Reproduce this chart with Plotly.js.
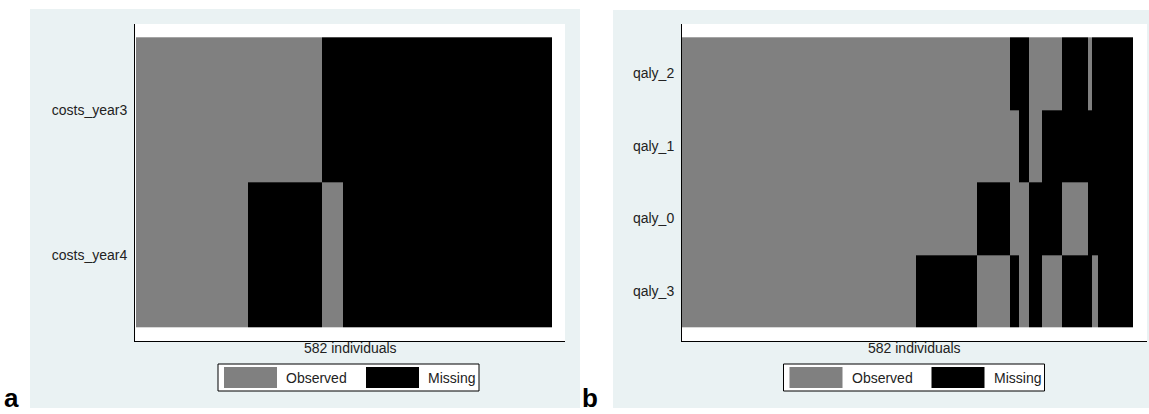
<!DOCTYPE html>
<html>
<head>
<meta charset="utf-8">
<script src="https://cdn.plot.ly/plotly-3.0.1.min.js"></script>
<style>html,body{margin:0;padding:0;background:#fff;}#chart{width:1149px;height:414px;}</style>
</head>
<body>
<div id="chart"></div>
<script>
// ---- data ----
const nIndividuals = 582;
const legendLabels = ['Observed', 'Missing'];
const panelLabels = ['a', 'b'];

// panel a: variables bottom -> top
const aVars = ['costs_year4', 'costs_year3'];
const aEdges = [0, 157, 260, 290, 582];          // individual boundaries of pattern blocks
const costs_year3 = [0, 0, 1, 1];                 // 0 = observed, 1 = missing
const costs_year4 = [0, 1, 0, 1];

// panel b: variables bottom -> top
const bVars = ['qaly_3', 'qaly_0', 'qaly_1', 'qaly_2'];
const bEdges = [0, 302, 381, 423, 434, 447, 464, 490, 523, 529, 536, 582];
const qaly_2 = [0, 0, 0, 1, 1, 0, 0, 1, 0, 1, 1];
const qaly_1 = [0, 0, 0, 0, 1, 0, 1, 1, 1, 1, 1];
const qaly_0 = [0, 0, 1, 0, 0, 1, 1, 0, 1, 1, 1];
const qaly_3 = [0, 1, 0, 1, 0, 1, 0, 1, 1, 0, 1];

// ---- styling / layout helpers ----
const W = 1149, H = 414;
const px = x => x / W;
const py = y => 1 - y / H;
const GREY = '#808080', BLACK = '#000000', BG = 'rgb(234,242,243)';
const FONT = 'Liberation Sans, Arial, sans-serif';
const cs = [[0, GREY], [0.5, GREY], [0.5, BLACK], [1, BLACK]];

const traces = [
  {type: 'heatmap', x: aEdges, y: [0, 1], z: [costs_year4, costs_year3],
   xaxis: 'x', yaxis: 'y', colorscale: cs, zmin: 0, zmax: 1, showscale: false, hoverinfo: 'skip'},
  {type: 'heatmap', x: bEdges, y: [0, 1, 2, 3], z: [qaly_3, qaly_0, qaly_1, qaly_2],
   xaxis: 'x2', yaxis: 'y2', colorscale: cs, zmin: 0, zmax: 1, showscale: false, hoverinfo: 'skip'}
];

const panels = [
  {bg: [30, 9, 580, 408], plot: [135, 24, 565, 341], heat: [136, 37.3, 551.7, 327.3], nrows: 2, legL: 218},
  {bg: [613, 10, 1149, 408], plot: [682, 24, 1147, 341], heat: [682, 37.3, 1133.3, 327.3], nrows: 4, legL: 783.5}
];

const shapes = [], annotations = [];
const layout = {
  width: W, height: H, margin: {l: 0, r: 0, t: 0, b: 0},
  paper_bgcolor: '#ffffff', plot_bgcolor: 'rgba(0,0,0,0)',
  showlegend: false, font: {family: FONT, size: 14, color: '#222'}
};

panels.forEach((p, i) => {
  const s = i === 0 ? '' : '2';
  const [pl, pt, pr, pb] = p.plot;
  const [hl, ht, hr, hb] = p.heat;
  const kx = nIndividuals / (hr - hl);              // individuals per px
  const ky = p.nrows / (hb - ht);                   // rows per px
  layout['xaxis' + s] = {
    domain: [px(pl), px(pr)], anchor: 'y' + s,
    range: [0 - (hl - pl) * kx, nIndividuals + (pr - hr) * kx],
    showline: true, linecolor: '#000', linewidth: 1, mirror: false,
    showticklabels: false, ticks: '', showgrid: false, zeroline: false, fixedrange: true
  };
  const vars = i === 0 ? aVars : bVars;
  layout['yaxis' + s] = {
    domain: [py(pb), py(pt)], anchor: 'x' + s,
    range: [-0.5 - (pb - hb) * ky, p.nrows - 0.5 + (ht - pt) * ky],
    tickvals: vars.map((_, k) => k), ticktext: vars,
    tickfont: {family: FONT, size: 14, color: '#222'}, ticklabelstandoff: 4,
    showline: true, linecolor: '#000', linewidth: 1,
    ticks: '', showgrid: false, zeroline: false, fixedrange: true
  };
  // panel background and white plot region
  shapes.push({type: 'rect', xref: 'paper', yref: 'paper', layer: 'below',
    x0: px(p.bg[0]), x1: px(p.bg[2]), y0: py(p.bg[3]), y1: py(p.bg[1]),
    fillcolor: BG, line: {width: 0}});
  shapes.push({type: 'rect', xref: 'paper', yref: 'paper', layer: 'below',
    x0: px(pl), x1: px(pr), y0: py(pb), y1: py(pt),
    fillcolor: '#ffffff', line: {width: 0}});
  // x label
  annotations.push({text: nIndividuals + ' individuals', xref: 'paper', yref: 'paper',
    x: px((pl + pr) / 2), y: py(348), xanchor: 'center', yanchor: 'middle',
    showarrow: false, font: {family: FONT, size: 14, color: '#222'}});
  // legend
  const L = p.legL;
  shapes.push({type: 'rect', xref: 'paper', yref: 'paper',
    x0: px(L), x1: px(L + 261), y0: py(391), y1: py(364),
    fillcolor: '#ffffff', line: {color: '#000', width: 1}});
  [[GREY, 6, 66], [BLACK, 148, 208]].forEach(([c, o, t], k) => {
    shapes.push({type: 'rect', xref: 'paper', yref: 'paper',
      x0: px(L + o), x1: px(L + o + 53), y0: py(388), y1: py(367),
      fillcolor: c, line: {width: 0}});
    annotations.push({text: legendLabels[k], xref: 'paper', yref: 'paper',
      x: px(L + t), y: py(377.5), xanchor: 'left', yanchor: 'middle',
      showarrow: false, font: {family: FONT, size: 14, color: '#222'}});
  });
});

// panel letters
annotations.push({text: '<b>' + panelLabels[0] + '</b>', xref: 'paper', yref: 'paper',
  x: px(3), y: py(414), xanchor: 'left', yanchor: 'bottom', showarrow: false, borderpad: 0,
  font: {family: FONT, size: 26, color: '#000'}});
annotations.push({text: '<b>' + panelLabels[1] + '</b>', xref: 'paper', yref: 'paper',
  x: px(581), y: py(414), xanchor: 'left', yanchor: 'bottom', showarrow: false, borderpad: 0,
  font: {family: FONT, size: 26, color: '#000'}});

layout.shapes = shapes;
layout.annotations = annotations;

Plotly.newPlot('chart', traces, layout, {staticPlot: true, displayModeBar: false});
</script>
</body>
</html>
